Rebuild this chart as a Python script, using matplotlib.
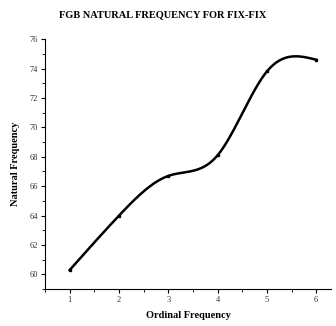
import matplotlib
matplotlib.use("Agg")
import matplotlib.pyplot as plt
import numpy as np
from matplotlib.ticker import MultipleLocator

# values
ordinal = [1, 2, 3, 4, 5, 6]
nat_freq = [60.3, 64.0, 66.7, 68.1, 73.8, 74.6]


def natural_spline(x, y, n=300):
    """Natural cubic spline through the points, for the smooth line only."""
    x = np.asarray(x, float)
    y = np.asarray(y, float)
    k = len(x)
    h = np.diff(x)
    A = np.zeros((k, k))
    b = np.zeros(k)
    A[0, 0] = A[-1, -1] = 1.0
    for i in range(1, k - 1):
        A[i, i - 1] = h[i - 1]
        A[i, i] = 2 * (h[i - 1] + h[i])
        A[i, i + 1] = h[i]
        b[i] = 3 * ((y[i + 1] - y[i]) / h[i] - (y[i] - y[i - 1]) / h[i - 1])
    c = np.linalg.solve(A, b)
    xs = np.linspace(x[0], x[-1], n)
    idx = np.clip(np.searchsorted(x, xs) - 1, 0, k - 2)
    dx = xs - x[idx]
    hi = h[idx]
    bb = (y[idx + 1] - y[idx]) / hi - hi * (2 * c[idx] + c[idx + 1]) / 3
    dd = (c[idx + 1] - c[idx]) / (3 * hi)
    ys = y[idx] + bb * dx + c[idx] * dx ** 2 + dd * dx ** 3
    return xs, ys


plt.rcParams["font.family"] = ["Liberation Serif", "DejaVu Serif"]

fig = plt.figure(figsize=(3.36, 3.26), dpi=100)
ax = fig.add_axes([0.134, 0.113, 0.851, 0.767])

xs, ys = natural_spline(ordinal, nat_freq)
ax.plot(xs, ys, color="black", lw=1.8)
ax.plot(ordinal, nat_freq, "s", color="black", ms=2.0)

ax.set_xlim(0.5, 6.3)
ax.set_ylim(59, 76)
ax.xaxis.set_major_locator(MultipleLocator(1))
ax.xaxis.set_minor_locator(MultipleLocator(0.5))
ax.yaxis.set_major_locator(MultipleLocator(2))
ax.yaxis.set_minor_locator(MultipleLocator(1))
ax.tick_params(which="major", length=3, width=0.8, labelsize=6, pad=2,
               labelcolor="#333333")
ax.tick_params(which="minor", length=2, width=0.6)
for s in ("top", "right"):
    ax.spines[s].set_visible(False)

ax.set_xlabel("Ordinal Frequency", fontsize=7.5, fontweight="bold", labelpad=5)
ax.set_ylabel("Natural Frequency", fontsize=7.5, fontweight="bold", labelpad=7)
fig.text(0.483, 0.955, "FGB NATURAL FREQUENCY FOR FIX-FIX", ha="center", va="center",
         fontsize=7.5, fontweight="bold")

fig.savefig("out.png", dpi=100)
